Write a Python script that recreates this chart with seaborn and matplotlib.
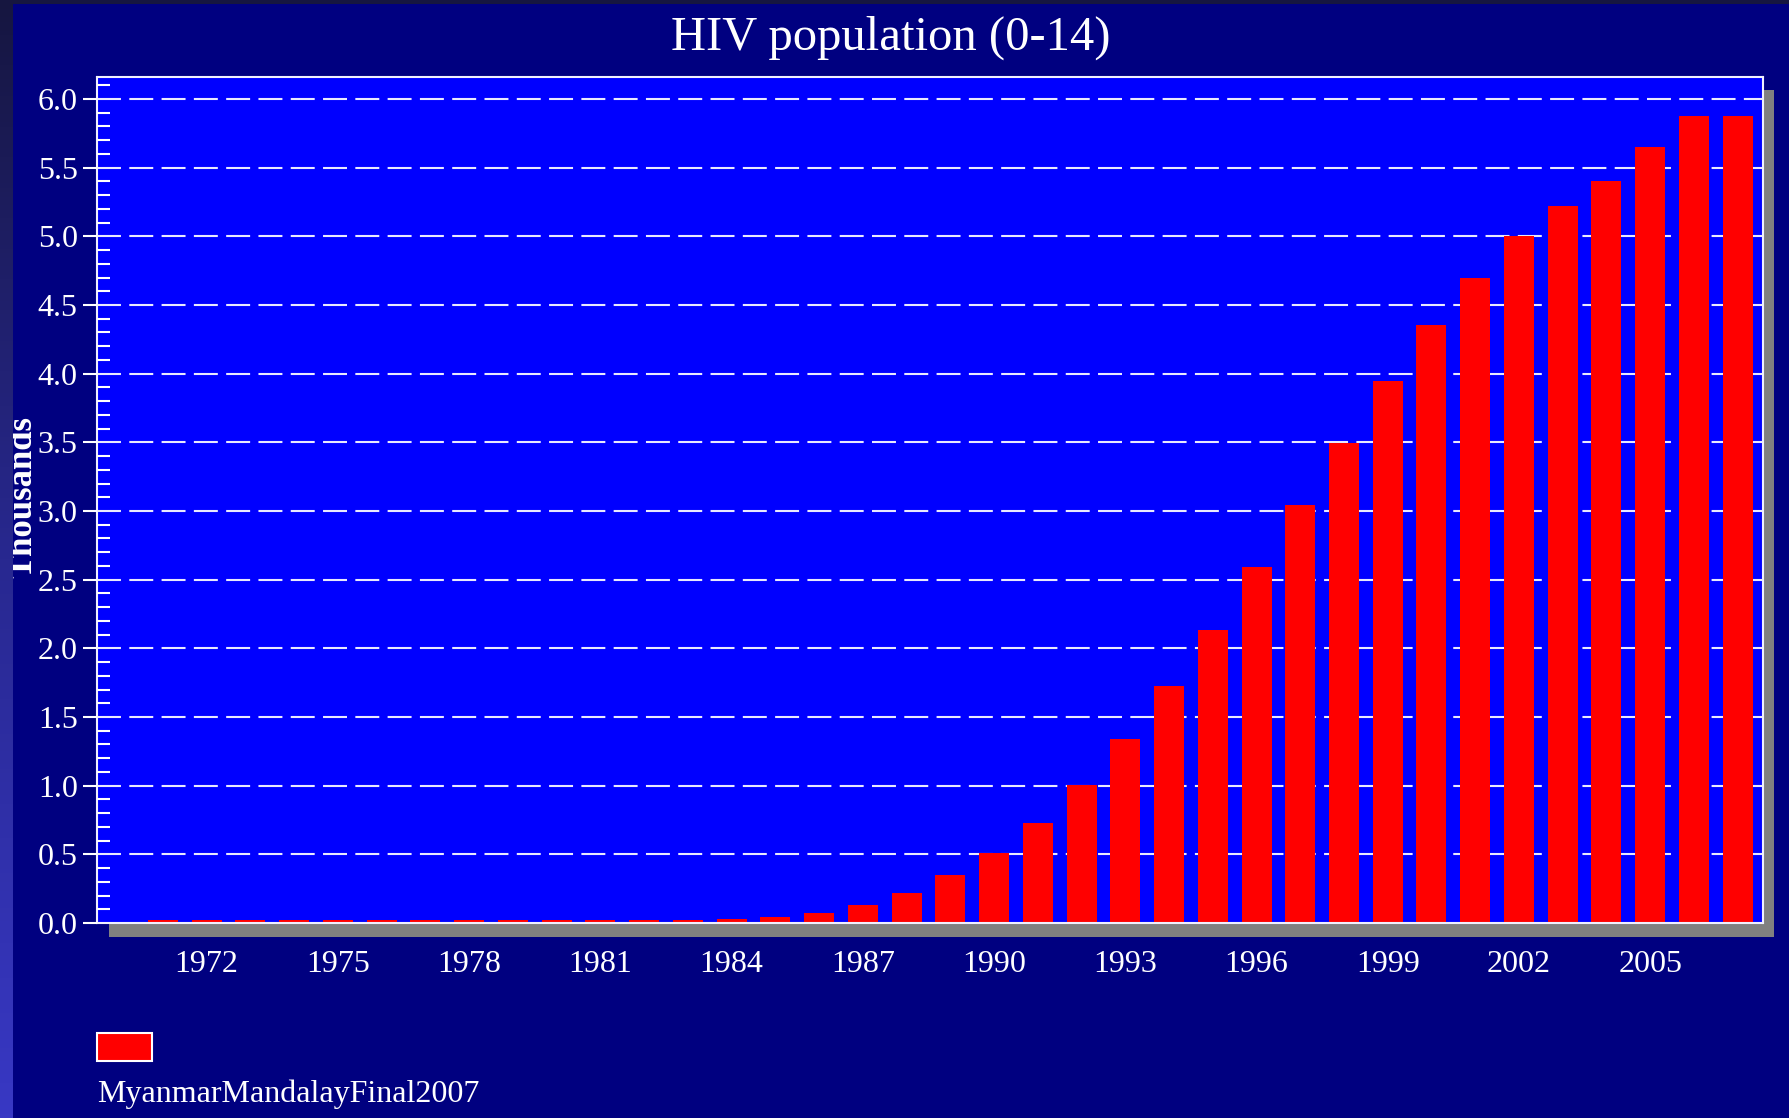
import numpy as np
import pandas as pd
import seaborn as sns
import matplotlib.pyplot as plt
from matplotlib.patches import Rectangle
from matplotlib.colors import LinearSegmentedColormap
from matplotlib.ticker import MultipleLocator, FormatStrFormatter

# values (thousands)
years = list(range(1971, 2008))
hiv_0_14 = [0.02, 0.02, 0.02, 0.02, 0.02, 0.02, 0.02, 0.02, 0.02, 0.02,
            0.02, 0.02, 0.022, 0.029, 0.041, 0.07, 0.131, 0.216, 0.347,
            0.51, 0.729, 1.005, 1.343, 1.725, 2.137, 2.593, 3.045, 3.496,
            3.946, 4.358, 4.696, 5.005, 5.22, 5.405, 5.654, 5.873, 5.873]
tick_years = list(range(1972, 2006, 3))
title = "HIV population (0-14)"
y_label = "Thousands"
series_name = "MyanmarMandalayFinal2007"

W, H = 1790, 1118
NAVY = '#000080'
PLOT_BG = '#0000FF'
BAR_RED = '#FF0000'


def px_box(x0, y0, x1, y1):
    # pixel box (top-left origin) -> figure fraction [left, bottom, w, h]
    return [x0 / W, 1 - y1 / H, (x1 - x0) / W, (y1 - y0) / H]


def main():
    sns.set_theme(style='white')
    plt.rcParams['font.family'] = ['Liberation Serif', 'DejaVu Serif']

    fig = plt.figure(figsize=(W / 100, H / 100), dpi=100, facecolor=NAVY)

    # drop shadow behind the plot area
    l, b, w, h = px_box(109.5, 90, 1774, 936.5)
    fig.patches.append(Rectangle((l, b), w, h, transform=fig.transFigure,
                                 facecolor='#808080', edgecolor='none',
                                 zorder=-1))

    ax = fig.add_axes(px_box(97.5, 76.5, 1762.5, 923))
    ax.set_facecolor(PLOT_BG)

    df = pd.DataFrame({'year': years, 'value': hiv_0_14})
    sns.barplot(data=df, x='year', y='value', color=BAR_RED, saturation=1,
                width=0.686, linewidth=0, ax=ax, zorder=2)

    ax.set_xlim(-1.495, 36.567)
    ax.set_ylim(0, 6.164)
    ax.set_xticks([years.index(y) for y in tick_years])
    ax.set_xticklabels([str(y) for y in tick_years])
    ax.set_xlabel('')
    ax.set_ylabel('')

    ax.yaxis.set_major_locator(MultipleLocator(0.5))
    ax.yaxis.set_minor_locator(MultipleLocator(0.1))
    ax.yaxis.set_major_formatter(FormatStrFormatter('%.1f'))

    # dashed white grid behind the bars
    for v in np.arange(0.5, 6.01, 0.5):
        ax.axhline(v, color='#E8E8FF', lw=1.5, ls=(0, (11.5, 4)), zorder=1)

    ax.set_axisbelow(False)
    ax.tick_params(axis='x', which='major', direction='inout', length=31.7,
                   width=1.2, colors='white', labelsize=23, pad=3.6)
    ax.tick_params(axis='x', which='minor', bottom=False)
    ax.tick_params(axis='y', which='major', direction='out', length=10,
                   width=1.5, colors='white', labelsize=23, pad=4.3, left=True)
    ax.tick_params(axis='y', which='minor', direction='in', length=9.4,
                   width=1.5, color='white', left=True)
    for s in ax.spines.values():
        s.set_color('#F0F0FF')
        s.set_linewidth(1.5)

    fig.text(891 / W, 1 - 50 / H, title, ha='center', va='baseline',
             fontsize=35, color='white')
    fig.text(39 / W, 1 - 497 / H, y_label, rotation=90, ha='right',
             va='center', fontsize=25, fontweight='bold', color='white')

    # legend swatch and label under the chart
    l, b, w, h = px_box(97, 1033, 152, 1061)
    fig.patches.append(Rectangle((l, b), w, h, transform=fig.transFigure,
                                 facecolor=BAR_RED, edgecolor='white', lw=1.5))
    fig.text(97 / W, 1 - 1102 / H, series_name, ha='left', va='baseline',
             fontsize=23, color='white')

    # slide frame: dark top edge and gradient strip on the left
    fig.patches.append(Rectangle((0, 1 - 4 / H), 1, 4 / H,
                                 transform=fig.transFigure,
                                 facecolor='#161640', edgecolor='none'))
    strip = fig.add_axes([0, 0, 13 / W, 1])
    cmap = LinearSegmentedColormap.from_list('strip', ['#161640', '#282890',
                                                       '#3838C4'])
    strip.imshow(np.linspace(0, 1, 256).reshape(-1, 1), aspect='auto',
                 cmap=cmap, extent=[0, 1, 0, 1], origin='upper')
    strip.set_axis_off()
    strip.set_zorder(5)

    fig.savefig('out.png', dpi=100, facecolor=fig.get_facecolor())


if __name__ == '__main__':
    main()
